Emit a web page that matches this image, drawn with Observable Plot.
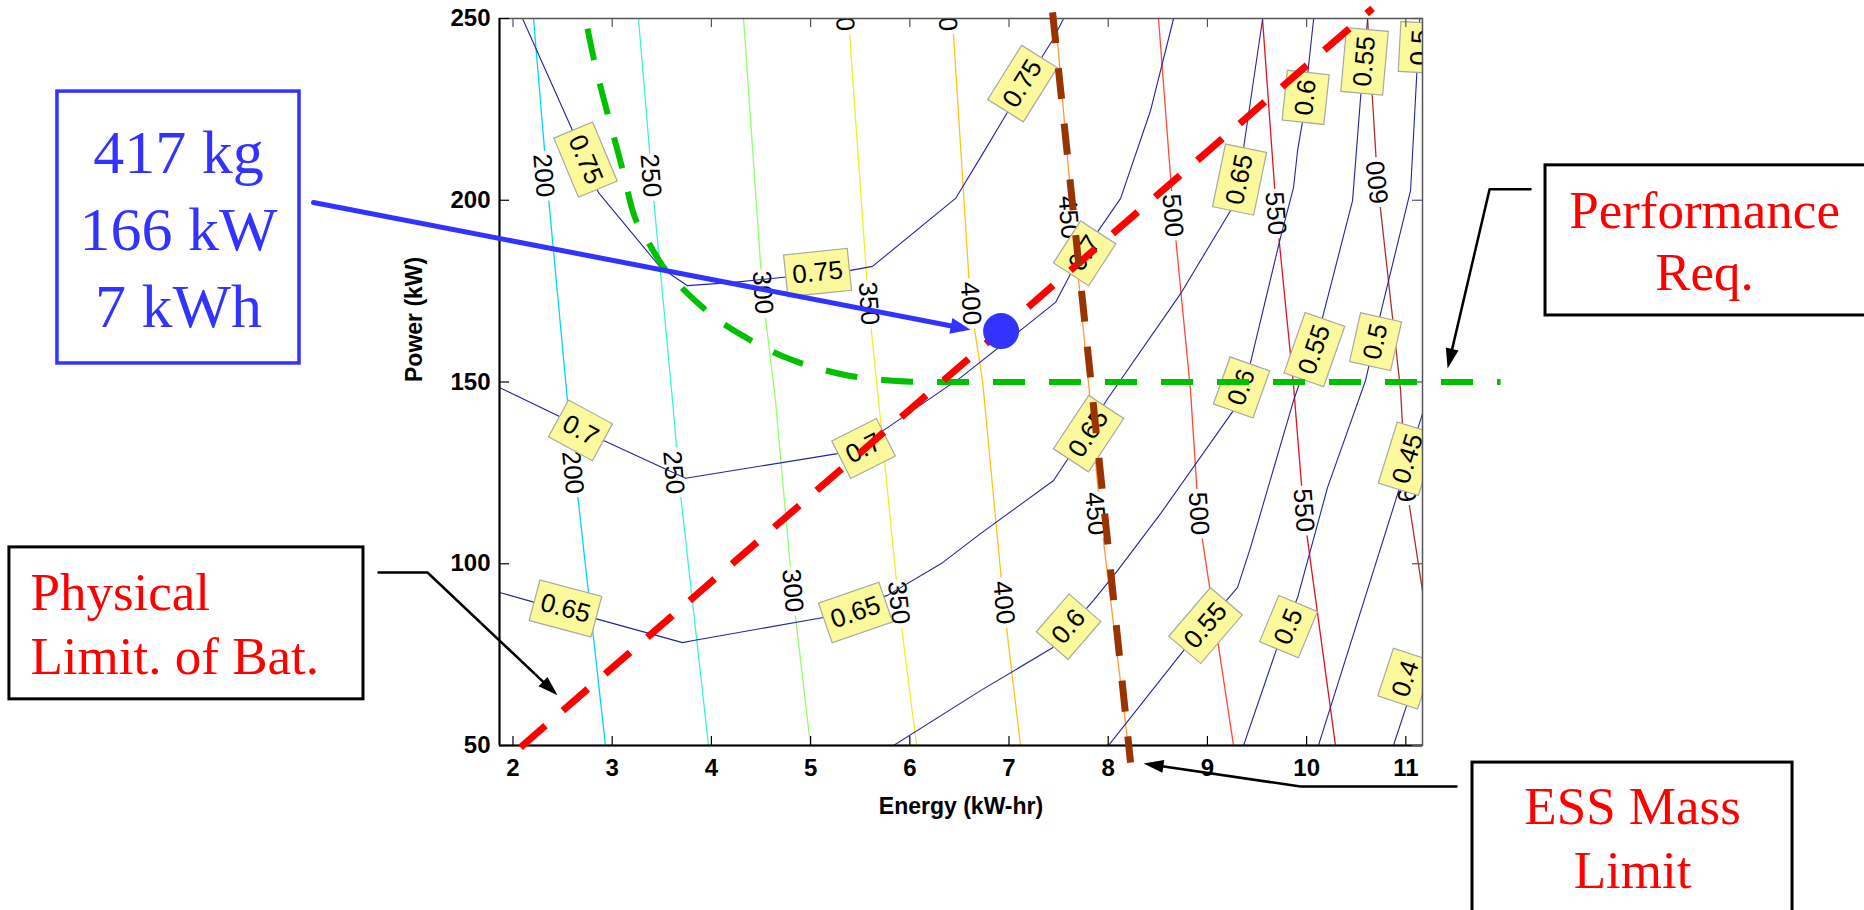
<!DOCTYPE html>
<html><head><meta charset="utf-8">
<script src="https://cdn.jsdelivr.net/npm/d3@7"></script>
<script src="https://cdn.jsdelivr.net/npm/@observablehq/plot@0.6"></script>
<style>html,body{margin:0;padding:0;background:#fff;overflow:hidden}</style>
</head><body><div id="chart"></div>
<script>
// ---------------- data (Energy kWh, Power kW) ----------------
const xTicks = [2,3,4,5,6,7,8,9,10,11];
const yTicks = [50,100,150,200,250];

// ESS mass contours (kg)
const massLevels = [200,250,300,350,400,450,500,550,600];
const massCurves = [
  [[2.207,250],[2.358,200.8],[2.549,144.9],[2.650,119.3],[2.932,50]],
  [[3.265,250],[3.416,200.8],[3.608,144.9],[3.688,119.3],[3.971,50]],
  [[4.324,250],[4.515,174.6],[4.646,144.9],[4.817,92.6],[4.999,50]],
  [[5.382,250],[5.584,171.6],[5.685,144.9],[5.886,89.3],[6.068,50]],
  [[6.430,250],[6.612,171.6],[6.733,150.4],[6.945,89.3],[7.116,50]],
  [[7.469,250],[7.641,195.3],[7.818,144.9],[7.919,113.8],[8.201,50]],
  [[8.507,250],[8.658,195.8],[8.830,147.5],[8.910,113.8],[9.263,50]],
  [[9.555,250],[9.696,196.4],[9.868,149.0],[9.969,114.7],[10.291,50]],
  [[11.199,87.1],[10.997,122.9],[10.947,147.7],[10.715,204.9],[10.614,250]]
];
const massLabelLevel = [200,200,250,250,300,300,350,350,350,400,400,400,450,450,500,500,550,550,600,600];
const massLabelE = [2.307,2.600,3.386,3.618,4.515,4.817,5.335,5.584,5.886,6.370,6.612,6.945,7.600,7.872,8.648,8.910,9.686,9.969,10.715,10.997];
const massLabelP = [206.8,125.1,206.8,125.1,174.6,92.6,252.5,171.6,89.3,252.5,171.6,89.3,195.3,113.8,195.8,113.8,196.4,114.7,204.9,122.9];

// efficiency contours
const effLevels = [0.75,0.7,0.65,0.6,0.55,0.5,0.45,0.4];
const effCurves = [
  [[2.096,250],[2.600,219.2],[2.862,202.1],[3.487,181.5],[3.759,176.5],[4.223,177.4],[5.402,180.7],[5.624,181.8],[6.461,200.5],[6.713,211.8],[6.995,224.7],[7.449,244.5],[7.550,250]],
  [[1.864,148.5],[2.449,140.8],[2.913,133.9],[3.739,123.5],[5.271,130.3],[5.735,136.7],[6.512,151.2],[7.137,164.7],[7.469,171.9],[7.621,179.8],[7.903,191.7],[8.125,200.5],[8.427,224.7],[8.659,250]],
  [[1.864,92.1],[2.227,89.3],[2.832,84.9],[3.709,78.3],[3.820,78.9],[5.130,85.2],[5.775,91.3],[6.330,100.3],[6.713,108.3],[7.449,122.9],[7.994,145.4],[8.730,174.3],[9.234,197.2],[9.365,214.5],[9.557,250]],
  [[5.836,50],[6.713,65.1],[7.439,76.9],[7.852,89.9],[8.094,98.1],[8.528,113.8],[9.263,142.2],[9.435,155.4],[9.737,189.8],[9.868,203.5],[9.909,213.7],[9.960,221.9],[10.071,250]],
  [[8.003,50],[8.759,76.1],[9.304,93.5],[9.435,104.5],[9.868,144.9],[10.160,167.7],[10.463,199.9],[10.544,228.3],[10.615,250]],
  [[9.364,50],[9.717,78.1],[9.909,90.7],[10.211,121.0],[10.594,150.4],[10.745,168.8],[11.048,202.7],[11.140,250]],
  [[10.119,50],[10.875,115.5],[11.168,141.3],[11.300,152]],
  [[10.875,50],[11.168,74.2],[11.300,88]]
];
const effLabelLevel = [0.75,0.75,0.75,0.7,0.7,0.7,0.65,0.65,0.65,0.65,0.6,0.6,0.6,0.55,0.55,0.55,0.5,0.5,0.5,0.45,0.4];
const effLabelE = [2.731,5.070,7.136,2.680,5.534,7.762,2.529,5.453,7.802,9.324,7.600,9.344,9.990,8.981,10.078,10.584,9.818,10.695,11.148,11.020,10.997];
const effLabelP = [211.2,180.1,232.1,136.7,131.7,185.4,87.7,86.6,135.8,205.7,82.7,148.5,228.3,83.0,158.9,238.2,82.7,161.1,242.0,128.9,68.4];

// constraint curves
const perfReq = [[2.751,247.2],[2.811,239.3],[2.953,223.9],[3.114,207.4],[3.205,197.2],[3.356,188.9],[3.507,182.0],[3.689,176.3],[3.860,171.8],[4.062,167.2],[4.324,162.6],[4.566,159.0],[4.828,155.9],[5.070,153.8],[5.372,151.8],[5.675,150.7],[6.007,150.1],[6.400,150],[11.955,150]];
const batLimit = [[2.076,49.5],[10.665,252.8]];
const massLimit = [[7.439,251.7],[8.225,45.3]];
const optimum = [[6.92,164]];

// annotations
const infoLines = ["417 kg","166 kW","7 kWh"];
const infoLineP = [207.4,186.2,165.0];
const infoE = -1.372;
const infoBox = [[-2.592,229.9],[-0.152,155.1]];
const infoArrow = [[-0.011,199.4],[6.612,164.4]];

const batLines = ["Physical","Limit. of Bat."];
const batLineP = [87.4,69.8];
const batE = -2.864;
const batBox = [[-3.076,104.5],[0.493,62.7]];
const batArrow = [[0.644,97.6],[1.138,97.6],[2.449,63.8]];

const perfLines = ["Performance","Req."];
const perfLineP = [192.5,175.2];
const perfE = 14.011;
const perfBox = [[12.408,209.6],[15.705,168.3]];
const perfArrow = [[12.257,203.0],[11.844,203.0],[11.421,153.7]];

const essLines = ["ESS Mass","Limit"];
const essLineP = [28.3,10.9];
const essE = 13.285;
const essBox = [[11.672,45.3],[14.898,-9.1]];
const essArrow = [[11.511,38.7],[9.939,38.7],[8.356,45.05]];

// ---------------- layout & helpers ----------------
const W = 1864, H = 910, mL = 499, mR = 442, mT = 18, mB = 165;
const xDom = [1.864, 11.168], yDom = [50, 250];
const iw = W - mL - mR, ih = H - mT - mB;
const px = E => mL + (E - xDom[0]) / (xDom[1] - xDom[0]) * iw;
const py = P => mT + (yDom[1] - P) / (yDom[1] - yDom[0]) * ih;
const ex = X => xDom[0] + (X - mL) / iw * (xDom[1] - xDom[0]);
const ey = Y => yDom[1] - (Y - mT) / ih * (yDom[1] - yDom[0]);

function angleAlong(curve, E, P) {
  let best = Infinity, ang = 0; const X = px(E), Y = py(P);
  for (let i = 0; i < curve.length - 1; i++) {
    const ax = px(curve[i][0]), ay = py(curve[i][1]), bx = px(curve[i+1][0]), by = py(curve[i+1][1]);
    const dx = bx - ax, dy = by - ay;
    const t = Math.max(0, Math.min(1, ((X - ax) * dx + (Y - ay) * dy) / (dx * dx + dy * dy)));
    const d = Math.hypot(ax + t * dx - X, ay + t * dy - Y);
    if (d < best) { best = d; ang = Math.atan2(dy, dx) * 180 / Math.PI; }
  }
  return ang;
}
function head(pts) {
  const n = pts.length;
  const ax = px(pts[n-2][0]), ay = py(pts[n-2][1]), bx = px(pts[n-1][0]), by = py(pts[n-1][1]);
  return {E: pts[n-1][0], P: pts[n-1][1], angle: Math.atan2(by - ay, bx - ax) * 180 / Math.PI};
}
function shorten(pts, L) {
  const n = pts.length;
  const ax = px(pts[n-2][0]), ay = py(pts[n-2][1]), bx = px(pts[n-1][0]), by = py(pts[n-1][1]);
  const len = Math.hypot(bx - ax, by - ay);
  const nx = bx - (bx - ax) / len * L, ny = by - (by - ay) / len * L;
  return pts.slice(0, n - 1).concat([[ex(nx), ey(ny)]]);
}
const rectSymbol = (w, h) => ({draw(ctx) { ctx.moveTo(-w/2, -h/2); ctx.lineTo(w/2, -h/2); ctx.lineTo(w/2, h/2); ctx.lineTo(-w/2, h/2); ctx.closePath(); }});
const triSymbol = (l, w) => ({draw(ctx) { ctx.moveTo(0, 0); ctx.lineTo(-l, -w/2); ctx.lineTo(-l, w/2); ctx.closePath(); }});

const massColors = ["#00d4ff","#3cf5d2","#90ff70","#eaf22a","#ffc21a","#ff9a3c","#ff4a33","#e0141e","#a83030"];
const navy = "#24249e";

const massRows = massCurves.flatMap((c, i) => c.map(([E, P]) => ({E, P, level: massLevels[i], color: massColors[i]})));
const massLabels = massLabelLevel.map((lv, i) => ({
  E: massLabelE[i], P: massLabelP[i], text: String(lv),
  angle: angleAlong(massCurves[massLevels.indexOf(lv)], massLabelE[i], massLabelP[i])
}));
const effRows = effCurves.flatMap((c, i) => c.map(([E, P]) => ({E, P, level: effLevels[i]})));
const effLabels = effLabelLevel.map((lv, i) => ({
  E: effLabelE[i], P: effLabelP[i], text: String(lv),
  angle: angleAlong(effCurves[effLevels.indexOf(lv)], effLabelE[i], effLabelP[i])
}));

const pts = a => a.map(([E, P]) => ({E, P}));
const boxRow = b => [{x1: b[0][0], y1: b[0][1], x2: b[1][0], y2: b[1][1]}];
const textRows = (lines, Ps, E) => lines.map((t, i) => ({t, E, P: Ps[i]}));

const blackArrows = [batArrow, perfArrow, essArrow];
const blackHeads = blackArrows.map(head);
const blueHead = [head(infoArrow)];
const serif = "'Liberation Serif', 'Times New Roman', serif";

const chart = Plot.plot({
  width: W, height: H,
  marginLeft: mL, marginRight: mR, marginTop: mT, marginBottom: mB,
  x: {domain: xDom},
  y: {domain: yDom},
  style: {fontFamily: "'Liberation Sans', Arial, sans-serif", background: "white", color: "black"},
  marks: [
    // mass contours
    Plot.line(massRows, {x: "E", y: "P", z: "level", stroke: "color", strokeWidth: 1.3, clip: true}),
    Plot.text(massLabels, {x: "E", y: "P", text: "text", rotate: "angle", fontSize: 26, fill: "black",
      stroke: "white", strokeWidth: 9, clip: true}),
    // efficiency contours
    Plot.line(effRows, {x: "E", y: "P", z: "level", stroke: navy, strokeWidth: 1.1, clip: true}),
    Plot.dot(effLabels.filter(d => d.text.length > 3), {x: "E", y: "P", rotate: "angle", r: 10,
      symbol: rectSymbol(64, 42), fill: "#fcf89c", stroke: "#a9a9a0", strokeWidth: 1.2, clip: true}),
    Plot.dot(effLabels.filter(d => d.text.length <= 3), {x: "E", y: "P", rotate: "angle", r: 10,
      symbol: rectSymbol(50, 42), fill: "#fcf89c", stroke: "#a9a9a0", strokeWidth: 1.2, clip: true}),
    Plot.text(effLabels, {x: "E", y: "P", text: "text", rotate: "angle", fontSize: 26, fill: "black", clip: true}),
    // frame, ticks
    Plot.frame({stroke: "#555", strokeWidth: 1.5}),
    Plot.ruleY([yDom[0]], {stroke: "black", strokeWidth: 2}),
    Plot.ruleX([xDom[0]], {stroke: "black", strokeWidth: 2}),
    Plot.tickX(xTicks, {x: d => d, insetTop: ih - 9, stroke: "black", strokeWidth: 1.2}),
    Plot.tickX(xTicks, {x: d => d, insetBottom: ih - 9, stroke: "#555", strokeWidth: 1.2}),
    Plot.tickY(yTicks, {y: d => d, insetRight: iw - 10, stroke: "black", strokeWidth: 1.2}),
    Plot.tickY(yTicks, {y: d => d, insetLeft: iw - 10, stroke: "#555", strokeWidth: 1.2}),
    Plot.axisX(xTicks, {tickSize: 0, tickPadding: 13, fontSize: 24, fontWeight: "bold", label: null}),
    Plot.axisY(yTicks, {tickSize: 0, tickPadding: 9, fontSize: 24, fontWeight: "bold", label: null}),
    Plot.text(["Energy (kW-hr)"], {frameAnchor: "bottom", lineAnchor: "bottom", dy: 68, fontSize: 23, fontWeight: "bold"}),
    Plot.text(["Power (kW)"], {frameAnchor: "left", rotate: -90, dx: -85, fontSize: 23, fontWeight: "bold"}),
    // constraint lines
    Plot.line(pts(perfReq), {x: "E", y: "P", curve: "monotone-x", stroke: "#00c000", strokeWidth: 6, strokeDasharray: "32,24", strokeLinecap: "butt"}),
    Plot.line(pts(batLimit), {x: "E", y: "P", stroke: "#ff0000", strokeWidth: 7, strokeDasharray: "33,23", strokeLinecap: "butt"}),
    Plot.line(pts(massLimit), {x: "E", y: "P", stroke: "#993300", strokeWidth: 7, strokeDasharray: "31,25", strokeLinecap: "butt"}),
    Plot.dot(pts(optimum), {x: "E", y: "P", r: 18, fill: "#3333ff"}),
    // info box + blue arrow
    Plot.line(pts(shorten(infoArrow, 14)), {x: "E", y: "P", stroke: "#3333ff", strokeWidth: 5}),
    Plot.dot(blueHead, {x: "E", y: "P", rotate: "angle", r: 5, symbol: triSymbol(20, 16), fill: "#3333ff"}),
    Plot.rect(boxRow(infoBox), {x1: "x1", x2: "x2", y1: "y1", y2: "y2", fill: "none", stroke: "#3333ff", strokeWidth: 3.5}),
    Plot.text(textRows(infoLines, infoLineP, infoE), {x: "E", y: "P", text: "t", lineAnchor: "bottom",
      fontFamily: serif, fontSize: 62, fill: "#3333ff"}),
    // black annotations
    ...blackArrows.map(a => Plot.line(pts(shorten(a, 12)), {x: "E", y: "P", stroke: "black", strokeWidth: 2.5})),
    Plot.dot(blackHeads, {x: "E", y: "P", rotate: "angle", r: 5, symbol: triSymbol(20, 13), fill: "black"}),
    ...[batBox, perfBox, essBox].map(b => Plot.rect(boxRow(b), {x1: "x1", x2: "x2", y1: "y1", y2: "y2",
      fill: "none", stroke: "black", strokeWidth: 3})),
    Plot.text(textRows(batLines, batLineP, batE), {x: "E", y: "P", text: "t", lineAnchor: "bottom", textAnchor: "start",
      fontFamily: serif, fontSize: 53, fill: "#ff0000"}),
    Plot.text(textRows(perfLines, perfLineP, perfE), {x: "E", y: "P", text: "t", lineAnchor: "bottom",
      fontFamily: serif, fontSize: 53, fill: "#ff0000"}),
    Plot.text(textRows(essLines, essLineP, essE), {x: "E", y: "P", text: "t", lineAnchor: "bottom",
      fontFamily: serif, fontSize: 53, fill: "#ff0000"})
  ]
});
document.getElementById("chart").appendChild(chart);
</script>
</body></html>
